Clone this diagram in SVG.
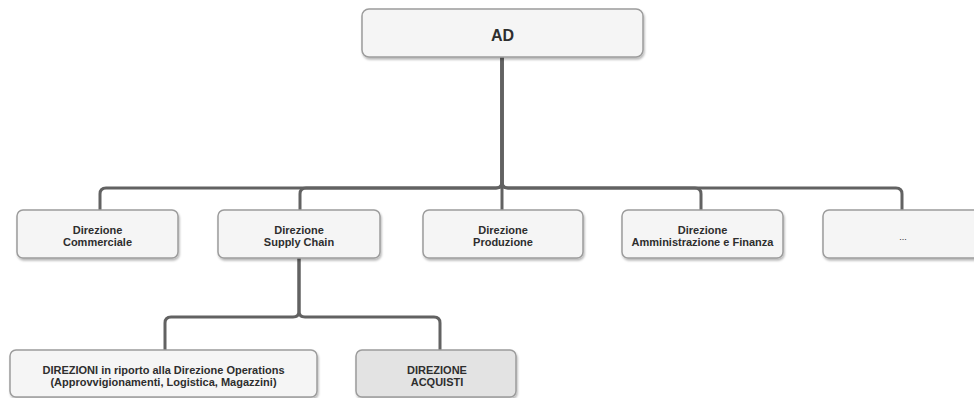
<svg xmlns="http://www.w3.org/2000/svg" width="974" height="398" viewBox="0 0 974 398">
  <style>
    .box { fill: #f5f5f5; stroke: #9c9c9c; stroke-width: 1.5; filter: url(#shadow); }
    .box.hl { fill: #e3e3e3; }
    .lbl { font-family: "Liberation Sans", Arial, Helvetica, sans-serif; font-weight: bold; font-size: 11px; fill: #2e2e2e; text-anchor: middle; }
    .lbl.big { font-size: 16px; }
    .link { fill: none; stroke: #626262; stroke-width: 3; stroke-linejoin: round; }
  </style>
  <defs>
    <filter id="shadow" x="-10%" y="-20%" width="120%" height="150%">
      <feDropShadow dx="1" dy="2" stdDeviation="1" flood-color="#000" flood-opacity="0.28"/>
    </filter>
  </defs>
  <rect width="974" height="398" fill="#ffffff"/>

  <!-- connectors -->
  <g id="connectors">
    <path class="link" d="M502 57 V182 Q502 188 496 188 H106 Q100 188 100 194 V210"/>
    <path class="link" d="M502 57 V182 Q502 188 496 188 H306 Q300 188 300 194 V210"/>
    <path class="link" d="M502 57 V210"/>
    <path class="link" d="M502 57 V182 Q502 188 508 188 H695 Q701 188 701 194 V210"/>
    <path class="link" d="M502 57 V182 Q502 188 508 188 H896 Q902 188 902 194 V210"/>
    <path class="link" d="M299 258 V311 Q299 317 293 317 H171 Q165 317 165 323 V350"/>
    <path class="link" d="M299 258 V311 Q299 317 305 317 H434 Q440 317 440 323 V350"/>
  </g>

  <!-- nodes -->
  <g id="node-ad">
    <rect class="box" x="362" y="9" width="281" height="48" rx="7"/>
    <text class="lbl big" x="502.5" y="41">AD</text>
  </g>
  <g id="node-commerciale">
    <rect class="box" x="17" y="210" width="161" height="48" rx="6"/>
    <text class="lbl" x="97.5" y="234">Direzione</text>
    <text class="lbl" x="97.5" y="246">Commerciale</text>
  </g>
  <g id="node-supply-chain">
    <rect class="box" x="218" y="210" width="162" height="48" rx="6"/>
    <text class="lbl" x="299" y="234">Direzione</text>
    <text class="lbl" x="299" y="246">Supply Chain</text>
  </g>
  <g id="node-produzione">
    <rect class="box" x="423" y="210" width="160" height="48" rx="6"/>
    <text class="lbl" x="503" y="234">Direzione</text>
    <text class="lbl" x="503" y="246">Produzione</text>
  </g>
  <g id="node-amministrazione">
    <rect class="box" x="622" y="210" width="161" height="48" rx="6"/>
    <text class="lbl" x="702.5" y="234">Direzione</text>
    <text class="lbl" x="702.5" y="246">Amministrazione e Finanza</text>
  </g>
  <g id="node-altro">
    <rect class="box" x="823" y="210" width="161" height="48" rx="6"/>
    <text class="lbl" x="903" y="240" style="font-weight:normal;font-size:9px">...</text>
  </g>
  <g id="node-operations">
    <rect class="box" x="10" y="350" width="307" height="47" rx="6"/>
    <text class="lbl" x="163.5" y="374">DIREZIONI in riporto alla Direzione Operations</text>
    <text class="lbl" x="163.5" y="386">(Approvvigionamenti, Logistica, Magazzini)</text>
  </g>
  <g id="node-acquisti">
    <rect class="box hl" x="356" y="350" width="160" height="47" rx="6"/>
    <text class="lbl" x="437" y="374">DIREZIONE</text>
    <text class="lbl" x="437" y="386">ACQUISTI</text>
  </g>
</svg>
